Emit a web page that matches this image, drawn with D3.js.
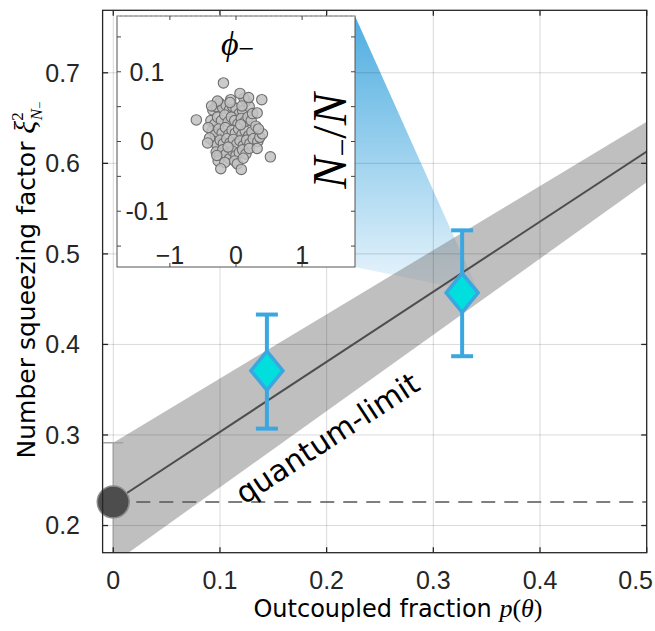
<!DOCTYPE html>
<html><head><meta charset="utf-8">
<script src="https://cdn.jsdelivr.net/npm/d3@7"></script>
<style>html,body{margin:0;padding:0;background:#fff;}svg{display:block;}</style>
</head><body>
<svg id="chart" width="655" height="631"></svg>
<script>
// ---- data ----
const pVals = [0, 0.144, 0.327];
const xiVals = [0.226, 0.371, 0.457];
const errLow = [0.158, 0.307, 0.387];
const errHigh = [0.2915, 0.433, 0.526];
const modelP = [0, 0.5];
const modelMid = [0.226, 0.613];
const modelUpper = [0.2915, 0.6458];
const modelLower = [0.158, 0.579];
const xTicks = [0, 0.1, 0.2, 0.3, 0.4, 0.5];
const yTicks = [0.2, 0.3, 0.4, 0.5, 0.6, 0.7];
const insetXTicks = [-1, 0, 1];
const insetYTicks = [-0.1, 0, 0.1];
const insetYMinor = [-0.15, -0.1, -0.05, 0, 0.05, 0.1, 0.15];
const insetPhi = [-0.35,-0.30,-0.25,-0.20,-0.15,-0.10,-0.05,0.00,0.05,0.10,0.15,0.20,
 -0.38,-0.32,-0.28,-0.22,-0.17,-0.12,-0.07,-0.02,0.03,0.08,0.13,0.18,0.23,
 -0.36,-0.31,-0.26,-0.21,-0.16,-0.11,-0.06,-0.01,0.04,0.09,0.14,0.19,0.24,0.29,
 -0.34,-0.29,-0.24,-0.19,-0.14,-0.09,-0.04,0.01,0.06,0.11,0.16,0.21,0.26,0.33,0.36,
 -0.30,-0.25,-0.20,-0.15,-0.10,-0.05,0.00,0.05,0.10,0.15,0.20,
 -0.27,-0.17,-0.02,0.02,
 -0.08,0.12,-0.28,0.25,0.30,-0.42,-0.40,0.32,-0.12,0.07,
 -0.19,0.06,0.39,0.19,-0.60,0.32,-0.43,0.52,-0.23,0.08,-0.29,0.11,0.40,0.34,-0.37,-0.09,0.09];
const insetN = [0.045,0.050,0.055,0.048,0.052,0.045,0.050,0.047,0.040,0.044,0.058,0.050,
 0.030,0.025,0.035,0.030,0.038,0.028,0.035,0.030,0.025,0.033,0.028,0.035,0.030,
 0.015,0.010,0.018,0.012,0.020,0.010,0.016,0.012,0.018,0.010,0.015,0.008,0.014,0.005,
 0.000,-0.005,0.002,-0.003,0.004,-0.002,0.003,-0.004,0.001,-0.006,0.002,-0.003,0.004,0.000,0.006,
 -0.015,-0.020,-0.012,-0.018,-0.025,-0.014,-0.020,-0.016,-0.012,-0.018,-0.010,
 -0.028,-0.030,-0.028,-0.032,
 0.060,0.062,0.058,0.040,0.022,0.020,0.005,-0.010,-0.008,0.024,
 0.084,0.069,0.060,0.063,0.031,0.041,-0.002,-0.022,-0.039,-0.040,-0.020,-0.024,0.011,0.018,0.051,0.056,0.051];

// ---- layout ----
const svg = d3.select("#chart");
const L = 102.6, R = 646.7, T = 10.3, B = 552.7;
const x = d3.scaleLinear([-0.01, 0.5], [L, R]);
const y = d3.scaleLinear([0.17, 0.769], [B, T]);
const axisCol = "#262626";
const tickFont = "'Liberation Sans', Arial, sans-serif";
const serif = "'Liberation Serif', 'DejaVu Serif', serif";

const defs = svg.append("defs");
defs.append("clipPath").attr("id","plotclip").append("rect")
  .attr("x",L).attr("y",T).attr("width",R-L).attr("height",B-T);
const grad = defs.append("linearGradient").attr("id","wedgeGrad")
  .attr("gradientUnits","userSpaceOnUse").attr("x1",0).attr("y1",16).attr("x2",0).attr("y2",298);
grad.append("stop").attr("offset",0).attr("stop-color","#4eade0");
grad.append("stop").attr("offset",1).attr("stop-color","#eef7fd");

// inset scales
const iL = 117, iR = 355, iT = 16, iB = 267;
const ix = d3.scaleLinear([-1.8, 1.8], [iL, iR]);
const iy = d3.scaleLinear([-0.18, 0.18], [iB, iT]);

const plot = svg.append("g").attr("clip-path","url(#plotclip)");

// wedge
const apex = [x(pVals[2]) + 17, y(xiVals[2])];
plot.append("path")
  .attr("d", `M${iR},${iT}L${apex[0]},${apex[1]}L${iR},${iB}Z`)
  .attr("fill","url(#wedgeGrad)");

// band
const bandArea = d3.area()
  .x(d => x(d[0])).y0(d => y(d[1])).y1(d => y(d[2]));
plot.append("path")
  .datum(modelP.map((p,i)=>[p, modelLower[i], modelUpper[i]]))
  .attr("d", bandArea)
  .attr("fill","#808080").attr("fill-opacity",0.5);

// grid
plot.append("g").selectAll("line").data(xTicks).join("line")
  .attr("x1",d=>x(d)).attr("x2",d=>x(d)).attr("y1",T).attr("y2",B)
  .attr("stroke","#000").attr("stroke-opacity",0.15).attr("stroke-width",1);
plot.append("g").selectAll("line").data(yTicks).join("line")
  .attr("y1",d=>y(d)).attr("y2",d=>y(d)).attr("x1",L).attr("x2",R)
  .attr("stroke","#000").attr("stroke-opacity",0.15).attr("stroke-width",1);

// model centre line
const line = d3.line().x(d=>x(d[0])).y(d=>y(d[1]));
plot.append("path").datum(modelP.map((p,i)=>[p, modelMid[i]]))
  .attr("d", line).attr("stroke","#4d4d4d").attr("stroke-width",2).attr("fill","none");

// dashed quantum limit
plot.append("path").datum([[0, xiVals[0]], [0.5, xiVals[0]]])
  .attr("d", line).attr("stroke","#555").attr("stroke-width",1.6)
  .attr("stroke-dasharray","14,9").attr("fill","none");

// grey error bar for circle point
plot.append("line").attr("x1",x(pVals[0])).attr("x2",x(pVals[0]))
  .attr("y1",y(errHigh[0])).attr("y2",y(errLow[0]))
  .attr("stroke","#a3a3a3").attr("stroke-width",1.5);
plot.append("line").attr("x1",x(pVals[0])-10).attr("x2",x(pVals[0])+10)
  .attr("y1",y(errHigh[0])).attr("y2",y(errHigh[0]))
  .attr("stroke","#a3a3a3").attr("stroke-width",1.5);

// blue error bars
const blue = "#3ba7e0";
const eb = svg.append("g");
[1,2].forEach(i => {
  const cx = x(pVals[i]);
  eb.append("line").attr("x1",cx).attr("x2",cx).attr("y1",y(errHigh[i])).attr("y2",y(errLow[i]))
    .attr("stroke",blue).attr("stroke-width",4);
  [errHigh[i], errLow[i]].forEach(v => {
    eb.append("line").attr("x1",cx-11).attr("x2",cx+11).attr("y1",y(v)).attr("y2",y(v))
      .attr("stroke",blue).attr("stroke-width",4);
  });
  eb.append("path")
    .attr("d", `M${cx},${y(xiVals[i])-19.5}L${cx+16},${y(xiVals[i])}L${cx},${y(xiVals[i])+19.5}L${cx-16},${y(xiVals[i])}Z`)
    .attr("fill","#00dede").attr("stroke",blue).attr("stroke-width",3.5).attr("stroke-linejoin","miter");
});

// circle point (not clipped)
svg.append("circle").attr("cx",x(pVals[0])).attr("cy",y(xiVals[0])).attr("r",16)
  .attr("fill","#4d4d4d").attr("stroke","#8c8c8c").attr("stroke-width",1.5);

// quantum-limit label
svg.append("text").attr("transform","translate(333,447) rotate(-33.2)")
  .attr("text-anchor","middle").attr("font-family","'DejaVu Sans', sans-serif")
  .attr("font-size",30).attr("fill","#000").text("quantum-limit");

// axes box
const ax = svg.append("g");
ax.append("rect").attr("x",L).attr("y",T).attr("width",R-L).attr("height",B-T)
  .attr("fill","none").attr("stroke",axisCol).attr("stroke-width",1.3);
const tl = 5.5;
xTicks.forEach(t => {
  ax.append("line").attr("x1",x(t)).attr("x2",x(t)).attr("y1",B).attr("y2",B-tl).attr("stroke",axisCol).attr("stroke-width",1.3);
  ax.append("line").attr("x1",x(t)).attr("x2",x(t)).attr("y1",T).attr("y2",T+tl).attr("stroke",axisCol).attr("stroke-width",1.3);
});
yTicks.forEach(t => {
  ax.append("line").attr("x1",L).attr("x2",L+tl).attr("y1",y(t)).attr("y2",y(t)).attr("stroke",axisCol).attr("stroke-width",1.3);
  ax.append("line").attr("x1",R).attr("x2",R-tl).attr("y1",y(t)).attr("y2",y(t)).attr("stroke",axisCol).attr("stroke-width",1.3);
});
ax.append("g").selectAll("text").data(xTicks).join("text")
  .attr("x",d=> d===0.5 ? 653 : x(d)).attr("y",589)
  .attr("text-anchor",d=> d===0.5 ? "end" : "middle")
  .attr("font-family",tickFont).attr("font-size",25).attr("fill",axisCol)
  .text(d=>d3.format("")(d));
ax.append("g").selectAll("text").data(yTicks).join("text")
  .attr("x",80).attr("y",d=>y(d)).attr("dy","0.35em").attr("text-anchor","end")
  .attr("font-family",tickFont).attr("font-size",25).attr("fill",axisCol)
  .text(d=>d3.format(".1f")(d));

// axis labels
const xl = svg.append("text").attr("x",398).attr("y",617).attr("text-anchor","middle")
  .attr("font-family","'DejaVu Sans', sans-serif").attr("font-size",24).attr("fill","#000");
xl.append("tspan").text("Outcoupled fraction ");
xl.append("tspan").attr("font-family",serif).attr("font-style","italic").attr("font-size",26).text("p");
xl.append("tspan").attr("font-family",serif).attr("font-size",26).text("(");
xl.append("tspan").attr("font-family",serif).attr("font-style","italic").attr("font-size",26).text("θ");
xl.append("tspan").attr("font-family",serif).attr("font-size",26).text(")");

const yl = svg.append("text").attr("transform","translate(35,280) rotate(-90)").attr("text-anchor","middle")
  .attr("font-family","'DejaVu Sans', sans-serif").attr("font-size",25).attr("fill","#000");
yl.append("tspan").text("Number squeezing factor ");
yl.append("tspan").attr("font-family",serif).attr("font-style","italic").attr("font-size",30).text("ξ");
yl.append("tspan").attr("font-family",serif).attr("font-size",17).attr("dy",-12).text("2");
yl.append("tspan").attr("font-family",serif).attr("font-style","italic").attr("font-size",17).attr("dx",-8).attr("dy",19).text("N");
yl.append("tspan").attr("font-family",serif).attr("font-size",13).attr("dy",2).text("−");

// ---- inset ----
const ins = svg.append("g");
ins.append("rect").attr("x",iL).attr("y",iT).attr("width",iR-iL).attr("height",iB-iT)
  .attr("fill","#fff").attr("stroke","#555").attr("stroke-width",1);
ins.append("line").attr("x1",iL).attr("x2",iR).attr("y1",iT).attr("y2",iT)
  .attr("stroke","#c8c8c8").attr("stroke-width",1.2).attr("stroke-dasharray","3,2");
insetXTicks.forEach(t => {
  ins.append("line").attr("x1",ix(t)).attr("x2",ix(t)).attr("y1",iT).attr("y2",iT+4).attr("stroke","#444");
  ins.append("line").attr("x1",ix(t)).attr("x2",ix(t)).attr("y1",iB).attr("y2",iB-4).attr("stroke","#444");
});
insetYMinor.forEach(t => {
  ins.append("line").attr("x1",iL).attr("x2",iL+4).attr("y1",iy(t)).attr("y2",iy(t)).attr("stroke","#444");
  ins.append("line").attr("x1",iR).attr("x2",iR-4).attr("y1",iy(t)).attr("y2",iy(t)).attr("stroke","#444");
});
ins.append("g").selectAll("circle").data(insetPhi.map((v,i)=>[v, insetN[i]])).join("circle")
  .attr("cx",d=>ix(d[0])).attr("cy",d=>iy(d[1])).attr("r",5.2)
  .attr("fill","#c2c2c2").attr("fill-opacity",0.85).attr("stroke","#6e6e6e").attr("stroke-width",1.1);
ins.append("g").selectAll("text").data(insetXTicks).join("text")
  .attr("x",d=>ix(d)).attr("y",264).attr("text-anchor","middle")
  .attr("font-family",tickFont).attr("font-size",25).attr("fill",axisCol)
  .text(d=>d3.format("")(d));
ins.append("g").selectAll("text").data(insetYTicks).join("text")
  .attr("x",147).attr("y",d=>iy(d)).attr("dy","0.35em").attr("text-anchor","middle")
  .attr("font-family",tickFont).attr("font-size",25).attr("fill",axisCol)
  .text(d=>d===0?"0":d3.format(".1f")(d).replace("−","-"));
const phiL = ins.append("text").attr("x",221).attr("y",55)
  .attr("font-family",serif).attr("font-size",34).attr("fill","#000");
phiL.append("tspan").attr("font-style","italic").text("ϕ");
phiL.append("tspan").attr("font-size",28).attr("dy",3).text("−");
const nL = ins.append("text").attr("transform","translate(346,141) rotate(-90)").attr("text-anchor","middle")
  .attr("font-family",serif).attr("font-size",48).attr("fill","#000");
nL.append("tspan").attr("font-style","italic").text("N");
nL.append("tspan").attr("font-size",32).attr("dy",7).text("−");
nL.append("tspan").attr("dy",-7).text("/");
nL.append("tspan").attr("font-style","italic").text("N");
</script>
</body></html>
